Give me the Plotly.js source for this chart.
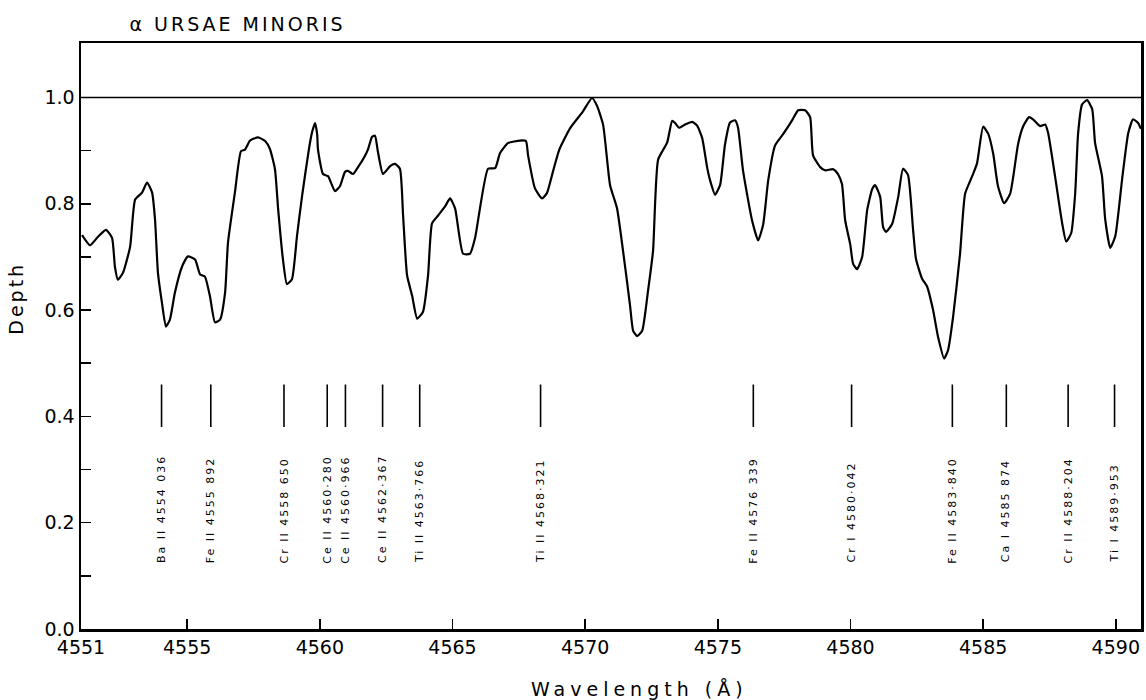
<!DOCTYPE html>
<html>
<head>
<meta charset="utf-8">
<script src="https://cdn.plot.ly/plotly-3.0.1.min.js"></script>
<style>
  html, body { margin: 0; padding: 0; background: #fff; }
  #chart { width: 1146px; height: 700px; }
  .gtitle { letter-spacing: 3px; }
  .annotation text { letter-spacing: 2px; }
  .annotation[data-index="0"] text { letter-spacing: 5px; }
  .annotation[data-index="1"] text { letter-spacing: 3px; }
</style>
</head>
<body>
<div id="chart"></div>
<script>
// Spectrum trace (wavelength in Å, depth)
const wavelength = [
  4551.04,4551.34,4551.64,4551.94,4552.17,4552.28,4552.39,4552.58,4552.85,4553.04,
  4553.30,4553.49,4553.68,4553.79,4553.90,4554.05,4554.20,4554.35,4554.54,4554.81,
  4555.03,4555.30,4555.49,4555.67,4555.86,4556.05,4556.24,4556.43,4556.54,4556.80,
  4557.03,4557.18,4557.37,4557.67,4557.94,4558.12,4558.31,4558.43,4558.61,4558.76,
  4558.95,4559.14,4559.33,4559.59,4559.71,4559.82,4559.90,4559.93,4560.12,4560.31,
  4560.57,4560.76,4560.95,4561.06,4561.25,4561.44,4561.70,4561.82,4561.97,4562.08,
  4562.19,4562.38,4562.65,4562.84,4563.02,4563.14,4563.29,4563.48,4563.67,4563.89,
  4564.08,4564.23,4564.46,4564.72,4564.91,4565.10,4565.40,4565.66,4565.85,4566.34,
  4566.61,4566.79,4567.09,4567.55,4567.77,4567.85,4568.11,4568.38,4568.56,4568.79,
  4569.02,4569.43,4569.92,4570.26,4570.45,4570.68,4570.94,4571.20,4571.43,4571.69,
  4571.81,4571.96,4572.15,4572.37,4572.56,4572.75,4573.09,4573.28,4573.39,4573.54,
  4573.77,4574.03,4574.22,4574.41,4574.60,4574.71,4574.90,4575.09,4575.27,4575.46,
  4575.65,4575.76,4575.95,4576.29,4576.52,4576.71,4576.90,4577.16,4577.46,4577.80,
  4578.03,4578.29,4578.48,4578.59,4578.86,4579.04,4579.35,4579.53,4579.68,4579.80,
  4579.99,4580.10,4580.25,4580.44,4580.63,4580.82,4580.93,4581.12,4581.23,4581.34,
  4581.57,4581.80,4581.98,4582.17,4582.36,4582.47,4582.70,4582.89,4583.11,4583.30,
  4583.53,4583.68,4583.87,4584.13,4584.32,4584.58,4584.77,4585.00,4585.19,4585.38,
  4585.56,4585.79,4586.02,4586.32,4586.51,4586.73,4586.88,4587.15,4587.34,4587.45,
  4587.71,4587.98,4588.13,4588.32,4588.47,4588.58,4588.73,4588.92,4589.11,4589.22,
  4589.48,4589.60,4589.79,4589.98,4590.24,4590.47,4590.65,4590.84,4590.95
];
const depth = [
  0.741,0.722,0.738,0.751,0.736,0.681,0.657,0.670,0.719,0.808,
  0.821,0.840,0.821,0.770,0.670,0.614,0.569,0.582,0.633,0.682,
  0.701,0.695,0.667,0.663,0.626,0.577,0.582,0.633,0.727,0.821,
  0.899,0.902,0.919,0.925,0.918,0.903,0.865,0.790,0.696,0.649,
  0.658,0.739,0.814,0.903,0.935,0.952,0.931,0.903,0.856,0.852,
  0.824,0.833,0.860,0.862,0.856,0.869,0.890,0.903,0.926,0.928,
  0.898,0.856,0.871,0.875,0.866,0.777,0.665,0.627,0.584,0.597,
  0.665,0.763,0.778,0.795,0.810,0.791,0.706,0.706,0.735,0.866,
  0.867,0.895,0.914,0.919,0.918,0.891,0.829,0.810,0.820,0.861,
  0.901,0.942,0.974,0.999,0.984,0.948,0.835,0.792,0.711,0.610,
  0.561,0.551,0.561,0.636,0.712,0.883,0.915,0.956,0.952,0.943,
  0.949,0.954,0.947,0.924,0.868,0.844,0.817,0.836,0.911,0.953,
  0.957,0.944,0.863,0.769,0.731,0.761,0.844,0.910,0.931,0.957,
  0.976,0.976,0.963,0.891,0.869,0.863,0.865,0.856,0.837,0.769,
  0.724,0.687,0.677,0.700,0.788,0.828,0.835,0.813,0.756,0.747,
  0.762,0.813,0.866,0.854,0.751,0.696,0.659,0.644,0.601,0.550,
  0.509,0.525,0.588,0.706,0.819,0.851,0.876,0.945,0.932,0.894,
  0.833,0.801,0.819,0.913,0.946,0.963,0.959,0.946,0.949,0.933,
  0.852,0.763,0.729,0.745,0.820,0.933,0.987,0.995,0.978,0.914,
  0.852,0.771,0.717,0.739,0.847,0.933,0.959,0.952,0.941
];

// Identified lines
const lineWavelengths = [4554.036, 4555.892, 4558.650, 4560.280, 4560.966, 4562.367, 4563.766,
                         4568.321, 4576.339, 4580.042, 4583.840, 4585.874, 4588.204, 4589.953];
const lineLabels = ["Ba II 4554 036", "Fe II 4555 892", "Cr II 4558 650", "Ce II 4560·280",
                    "Ce II 4560·966", "Ce II 4562·367", "Ti II 4563·766", "Ti II 4568·321",
                    "Fe II 4576 339", "Cr I 4580·042", "Fe II 4583·840", "Ca I 4585 874",
                    "Cr II 4588·204", "Ti I 4589·953"];

// Axis ticks
const xTickVals = [4551, 4555, 4560, 4565, 4570, 4575, 4580, 4585, 4590];
const xTickText = ["4551", "4555", "4560", "4565", "4570", "4575", "4580", "4585", "4590"];
const yTickVals = [0, 0.1, 0.2, 0.3, 0.4, 0.5, 0.6, 0.7, 0.8, 0.9, 1.0];
const yTickText = ["0.0", "", "0.2", "", "0.4", "", "0.6", "", "0.8", "", "1.0"];

const continuum = 1.0;
const markTop = 0.46, markBottom = 0.38, labelBase = 0.146;

const font = 'DejaVu Sans, Verdana, sans-serif';

const markX = [], markY = [];
lineWavelengths.forEach(w => { markX.push(w, w, null); markY.push(markTop, markBottom, null); });

const traces = [
  {
    x: wavelength, y: depth, type: 'scatter', mode: 'lines',
    line: { color: '#000', width: 2.2, shape: 'spline', smoothing: 0.5 },
    hoverinfo: 'skip'
  },
  {
    x: markX, y: markY, type: 'scatter', mode: 'lines',
    line: { color: '#000', width: 1.6 }, hoverinfo: 'skip'
  }
];

const annotations = [
  { text: 'Wavelength (Å)', xref: 'paper', yref: 'paper', x: 0.527, y: -0.102,
    xanchor: 'center', yanchor: 'middle', showarrow: false,
    font: { family: font, size: 19, color: '#000' } },
  { text: 'Depth', xref: 'paper', yref: 'paper', x: -0.061, y: 0.565,
    xanchor: 'center', yanchor: 'middle', showarrow: false, textangle: -90,
    font: { family: font, size: 19, color: '#000' } }
];
lineWavelengths.forEach((w, i) => {
  annotations.push({
    text: lineLabels[i], x: w, y: labelBase, xref: 'x', yref: 'y',
    xanchor: 'center', yanchor: 'bottom', textangle: -90, showarrow: false,
    font: { family: font, size: 11, color: '#000' }
  });
});

const axisCommon = {
  showgrid: false, zeroline: false, showline: true, mirror: true,
  linecolor: '#000', linewidth: 2.5, ticks: 'inside', ticklen: 10,
  tickwidth: 1.5, tickcolor: '#000', tickmode: 'array',
  tickfont: { family: font, size: 19, color: '#000' }
};

const layout = {
  width: 1146, height: 700,
  margin: { l: 81, r: 5, t: 43, b: 71, pad: 0 },
  paper_bgcolor: '#fff', plot_bgcolor: '#fff',
  showlegend: false,
  title: { text: 'α URSAE MINORIS', xref: 'container', yref: 'container',
           x: 0.113, xanchor: 'left', y: 0.965, yanchor: 'middle',
           font: { family: font, size: 19, color: '#000' } },
  xaxis: Object.assign({}, axisCommon, { range: [4551, 4590.95], tickvals: xTickVals, ticktext: xTickText }),
  yaxis: Object.assign({}, axisCommon, { range: [0, 1.1025], tickvals: yTickVals, ticktext: yTickText }),
  shapes: [
    { type: 'line', xref: 'paper', yref: 'y', x0: 0, x1: 1, y0: continuum, y1: continuum,
      line: { color: '#000', width: 1.3 } }
  ],
  annotations: annotations
};

Plotly.newPlot('chart', traces, layout, { displayModeBar: false, staticPlot: true });
</script>
</body>
</html>
